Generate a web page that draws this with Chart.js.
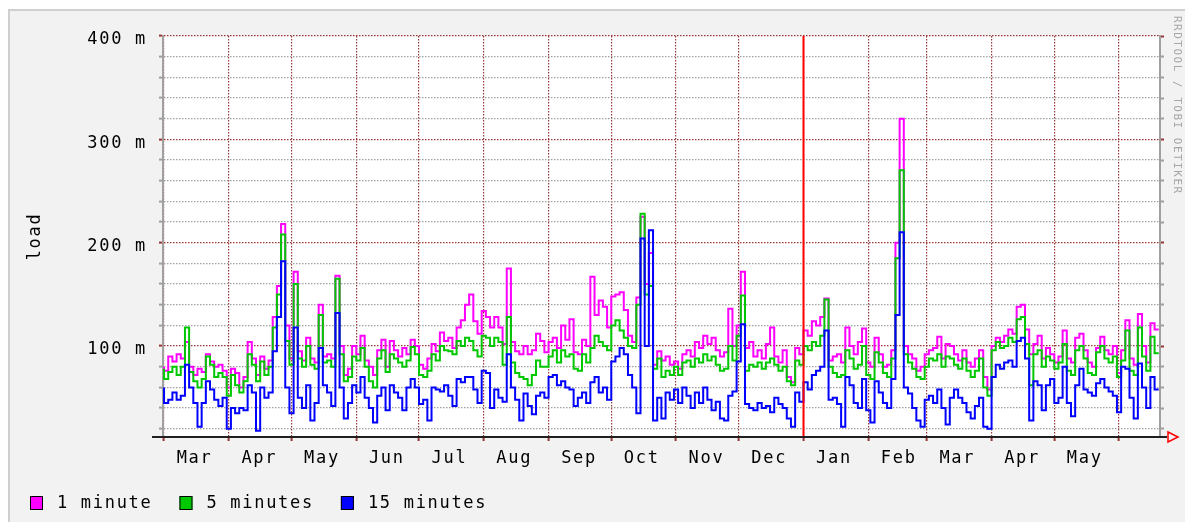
<!DOCTYPE html>
<html><head><meta charset="utf-8">
<script src="https://cdn.jsdelivr.net/npm/chart.js@4/dist/chart.umd.min.js"></script>
<style>html,body{margin:0;padding:0;background:#fff}canvas{display:block}</style>
</head><body>
<canvas id="c" width="1185" height="522"></canvas>
<script>
// time grid: one sample every 2 days, day 0 = 1 March
const startDay = 0;
const stepDays = 2;
const monthStarts = [0,31,61,92,122,153,184,214,245,275,306,337,365,396,426,457];
const monthLabels = ['Mar','Apr','May','Jun','Jul','Aug','Sep','Oct','Nov','Dec','Jan','Feb','Mar','Apr','May',''];
const yTicks = [20,40,60,80,100,120,140,160,180,200,220,240,260,280,300,320,340,360,380,400];
const yMin = 12, yMax = 400;
const vruleDay = 306; // 1 January
const seriesLabels = ['1 minute','5 minutes','15 minutes'];

const load1m = [
 80,76,90,85,92,88,104,80,72,78, 75,92,85,80,82,76,60,78,74,60,
 70,104,88,72,90,78,86,128,158,218, 120,88,172,95,86,108,88,84,140,90,
 92,88,168,100,72,78,100,92,110,86, 80,72,96,106,80,105,96,90,98,92,
 106,100,82,78,88,102,95,113,105,108, 98,118,125,140,150,124,112,134,128,118,
 128,118,102,175,104,95,92,100,92,96, 112,105,94,104,108,98,120,106,126,94,
 92,106,100,167,130,144,138,118,148,150, 152,135,110,104,147,225,160,190,82,
 95,86,90,82,85,78,92,96,90,104, 98,110,102,108,96,90,94,136,100,120,
 172,98,104,90,96,88,102,118,90,84, 96,70,65,98,92,115,110,124,120,128,
 146,86,90,92,84,118,100,92,104,117, 84,80,108,92,80,82,96,200,320,100,
 92,88,76,80,92,96,98,109,88,102, 100,92,86,96,84,80,88,96,70,
 58,100,108,104,110,116,112,138,140,116, 92,102,110,88,98,92,84,90,115,88,
 84,108,112,96,84,80,98,109,96,92, 100,74,96,125,88,82,131,100,84,122,116
];
const load5m = [
 78,68,75,80,72,80,118,75,66,60, 68,90,82,70,74,70,52,72,62,55,
 66,92,82,66,85,72,80,118,150,208, 105,82,160,88,80,100,82,78,130,84,
 86,80,165,92,66,70,90,86,98,80, 66,60,88,96,75,92,88,84,80,86,
 99,92,72,70,76,92,86,100,96,95, 92,105,100,108,105,96,90,110,108,100,
 108,104,82,128,84,74,70,68,62,72, 86,80,80,90,96,84,96,90,92,78,
 76,92,84,98,110,104,100,96,120,125, 115,108,100,98,140,228,150,158,78,
 88,70,76,72,80,72,84,86,80,88, 84,92,86,90,82,76,78,100,86,110,
 149,76,82,80,84,78,84,88,82,76, 80,66,62,86,82,100,96,104,100,110,
 145,80,74,70,72,96,88,78,82,100, 72,68,94,84,74,70,88,185,270,92,
 84,78,70,68,80,88,86,92,80,90, 88,82,78,88,76,70,76,88,60,
 52,96,104,98,100,108,104,126,128,102, 62,92,96,80,90,86,78,84,102,76,
 72,96,100,88,74,72,94,100,88,84, 90,70,86,115,76,72,118,90,76,109,93
];
const load15m = [
 60,45,48,55,48,52,82,60,45,22, 45,66,58,48,42,50,20,40,35,40,
 38,62,55,18,60,50,55,95,128,182, 60,35,118,50,40,62,28,45,98,62,
 55,42,132,60,30,45,62,55,70,50, 40,26,52,60,38,62,55,50,38,60,
 68,60,44,48,28,60,58,56,62,52, 42,68,65,70,70,58,45,76,74,40,
 58,50,46,92,60,48,28,54,42,34, 52,55,50,70,72,62,66,60,58,42,
 50,55,45,65,70,55,60,48,85,90, 98,92,72,60,35,204,100,212,28,
 50,30,55,48,58,45,60,52,40,55, 45,60,48,38,46,30,28,52,56,85,
 121,44,40,38,45,40,42,36,50,44, 40,30,22,55,46,65,58,72,76,80,
 115,48,50,44,22,70,62,45,40,68, 38,26,66,55,45,40,68,130,210,60,
 54,40,28,22,48,52,45,58,40,24, 50,58,50,45,36,30,42,50,22,
 20,70,82,78,84,86,80,105,108,88, 28,66,62,38,62,68,45,50,80,45,
 32,62,78,58,55,52,64,68,60,56, 52,36,80,78,50,30,83,60,40,70,58
];

const FONT = '"DejaVu Sans Mono", "Liberation Mono", monospace';
const MAJ = 'rgba(135,22,22,0.85)';
const MIN = 'rgba(150,150,150,0.9)';
const toPts = arr => arr.map((v, i) => ({x: startDay + i * stepDays, y: v}));
const gridColor = c => (c.tick && c.tick.value % 100 === 0) ? MAJ : MIN;

const decor = {
  id: 'decor',
  beforeDraw(chart) {
    const ctx = chart.ctx, a = chart.chartArea;
    ctx.save();
    ctx.fillStyle = '#ffffff';
    ctx.fillRect(0, 0, chart.width, chart.height);
    ctx.fillStyle = '#f2f2f2';
    ctx.fillRect(8, 9, chart.width - 8, chart.height - 9);
    ctx.fillStyle = '#cfcfcf';
    ctx.fillRect(8, 9, chart.width - 8, 2);
    ctx.fillRect(8, 9, 2, chart.height - 9);
    ctx.fillStyle = '#ffffff';
    ctx.fillRect(a.left, a.top, a.right - a.left, a.bottom - a.top);
    ctx.restore();
    ctx.letterSpacing = '1.7px';
  },
  afterDatasetsDraw(chart) {
    const ctx = chart.ctx, a = chart.chartArea;
    const xp = chart.scales.x.getPixelForValue(vruleDay);
    ctx.save();
    ctx.strokeStyle = '#ff0000';
    ctx.lineWidth = 2;
    ctx.beginPath();
    ctx.moveTo(xp, a.top);
    ctx.lineTo(xp, a.bottom);
    ctx.stroke();
    ctx.restore();
  },
  afterDraw(chart) {
    const ctx = chart.ctx, a = chart.chartArea;
    ctx.save();
    // x axis line and arrow
    ctx.strokeStyle = '#202020';
    ctx.lineWidth = 2;
    ctx.beginPath();
    ctx.moveTo(a.left - 11, a.bottom);
    ctx.lineTo(a.right + 7, a.bottom);
    ctx.stroke();
    ctx.strokeStyle = '#ff0000';
    ctx.lineWidth = 1.5;
    ctx.beginPath();
    ctx.moveTo(a.right + 8, a.bottom - 5);
    ctx.lineTo(a.right + 18, a.bottom);
    ctx.lineTo(a.right + 8, a.bottom + 5);
    ctx.closePath();
    ctx.stroke();
    // credit
    ctx.save();
    ctx.translate(1177, 16);
    ctx.rotate(Math.PI / 2);
    ctx.font = '11px ' + FONT;
    ctx.letterSpacing = '1.5px';
    ctx.fillStyle = '#a6a6a6';
    ctx.textAlign = 'left';
    ctx.textBaseline = 'middle';
    ctx.fillText('RRDTOOL / TOBI OETIKER', 0, 0);
    ctx.restore();
    // legend
    ctx.font = '17px ' + FONT;
    ctx.letterSpacing = '1.7px';
    ctx.textAlign = 'left';
    ctx.textBaseline = 'middle';
    let x = 30;
    const y = 503;
    chart.data.datasets.forEach(ds => {
      ctx.fillStyle = ds.borderColor;
      ctx.fillRect(x, y - 7, 13, 14);
      ctx.strokeStyle = '#000';
      ctx.lineWidth = 1;
      ctx.strokeRect(x + 0.5, y - 6.5, 12, 13);
      ctx.fillStyle = '#000';
      ctx.fillText(ds.label, x + 27, y + 1);
      x = x + 27 + ctx.measureText(ds.label).width + 27;
    });
    ctx.restore();
  }
};

const lineDs = (label, data, color, order) => ({
  label, data: toPts(data), borderColor: color, backgroundColor: color,
  borderWidth: 2, pointRadius: 0, fill: false, stepped: 'after', order,
  xAxisID: 'x', yAxisID: 'y'
});

new Chart(document.getElementById('c'), {
  type: 'line',
  data: {
    datasets: [
      lineDs(seriesLabels[0], load1m, '#ff00ff', 3),
      lineDs(seriesLabels[1], load5m, '#00c800', 2),
      lineDs(seriesLabels[2], load15m, '#0000ff', 1)
    ]
  },
  options: {
    responsive: false,
    devicePixelRatio: 1,
    animation: false,
    events: [],
    layout: {padding: {top: 36, left: 0, right: 0, bottom: 0}, autoPadding: false},
    plugins: {legend: {display: false}, tooltip: {enabled: false}},
    scales: {
      x: {
        type: 'linear', position: 'bottom', min: -0.5, max: 476.6,
        afterBuildTicks: s => { s.ticks = monthStarts.map(v => ({value: v})); },
        ticks: {
          autoSkip: false, maxRotation: 0, minRotation: 0, labelOffset: 30.5, padding: 7,
          color: '#000', font: {family: FONT, size: 17},
          callback: (v, i) => monthLabels[i] ?? ''
        },
        grid: {color: MAJ, lineWidth: 1.2, tickLength: 4, tickColor: MAJ, tickWidth: 2},
        border: {display: false, dash: [1.5, 1.5]},
        afterFit: s => { s.height = 85; }
      },
      y: {
        type: 'linear', position: 'left', min: yMin, max: yMax,
        afterBuildTicks: s => { s.ticks = yTicks.map(v => ({value: v})); },
        ticks: {
          autoSkip: false, padding: 12, labelOffset: 4, color: '#000',
          font: {family: FONT, size: 17},
          callback: v => (v % 100 === 0 ? v + ' m' : '')
        },
        grid: {color: gridColor, lineWidth: 1.2, tickLength: 4, tickColor: gridColor, tickWidth: 2},
        border: {display: true, color: '#a0a0a0', width: 2, dash: [1.5, 1.5]},
        title: {display: true, text: 'load', color: '#000', font: {family: FONT, size: 17}, padding: {top: 25, bottom: 0}},
        afterFit: s => { s.width = 163; }
      },
      yr: {
        type: 'linear', position: 'right', min: yMin, max: yMax,
        afterBuildTicks: s => { s.ticks = yTicks.map(v => ({value: v})); },
        ticks: {display: false},
        grid: {drawOnChartArea: false, tickLength: 4, color: gridColor, tickColor: gridColor, tickWidth: 2},
        border: {display: true, color: '#a0a0a0', width: 2},
        afterFit: s => { s.width = 25; }
      }
    }
  },
  plugins: [decor]
});
</script>
</body></html>
